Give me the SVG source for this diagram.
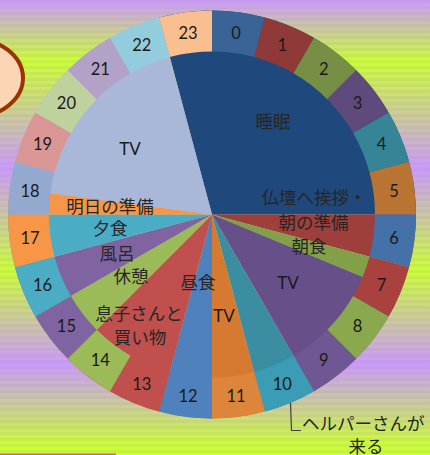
<svg xmlns="http://www.w3.org/2000/svg" width="430" height="455" viewBox="0 0 430 455">
<defs>
<linearGradient id="bg" x1="0" y1="0" x2="0" y2="455" gradientUnits="userSpaceOnUse">
<stop offset="0" stop-color="#cc99ff"/>
<stop offset="0.135" stop-color="#ccff33"/>
<stop offset="0.37" stop-color="#cc99ff"/>
<stop offset="0.595" stop-color="#ccff33"/>
<stop offset="0.80" stop-color="#cc99ff"/>
<stop offset="0.98" stop-color="#ccff33"/>
</linearGradient>
<pattern id="stripes" width="8" height="6" patternUnits="userSpaceOnUse">
<rect x="0" y="0" width="8" height="3" fill="#999999" fill-opacity="0.12"/>
</pattern>
<style>
.num{font-family:Lato,"Liberation Sans",sans-serif;font-size:16.5px;fill:#1a1a1a;text-anchor:middle}
.jp{font-family:"Noto Sans CJK JP","Noto Sans",sans-serif;font-size:17.5px;fill:#262626;text-anchor:middle}
.tv{font-family:Lato,"Liberation Sans",sans-serif;font-size:17px;fill:#1a1a1a;text-anchor:middle}
.lead{fill:none;stroke:#404040;stroke-width:1.2}
</style>
</defs>
<rect x="0" y="0" width="430" height="455" fill="url(#bg)"/>
<rect x="0" y="0" width="430" height="455" fill="url(#stripes)"/>
<ellipse cx="-30" cy="78" rx="53" ry="40" fill="#fcd5b5" stroke="#993300" stroke-width="4"/>
<rect x="0" y="453.5" width="116" height="1.5" fill="#d0704a"/>

<g id="pie">
<path d="M212,214.5 L159.2,17.45 A204,204 0 0 1 416,214.5 Z" fill="#1f497d"/>
<path d="M212,214.5 L416,214.5 A204,204 0 0 1 409.05,267.3 Z" fill="#9e3f3c"/>
<path d="M212,214.5 L409.05,267.3 A204,204 0 0 1 400.47,292.57 Z" fill="#82a048"/>
<path d="M212,214.5 L400.47,292.57 A204,204 0 0 1 314,391.17 Z" fill="#67508a"/>
<path d="M212,214.5 L314,391.17 A204,204 0 0 1 264.8,411.55 Z" fill="#3b8ea2"/>
<path d="M212,214.5 L264.8,411.55 A204,204 0 0 1 212,418.5 Z" fill="#d67a31"/>
<path d="M212,214.5 L212,418.5 A204,204 0 0 1 159.2,411.55 Z" fill="#4f81bd"/>
<path d="M212,214.5 L159.2,411.55 A204,204 0 0 1 67.75,358.75 Z" fill="#c0504d"/>
<path d="M212,214.5 L67.75,358.75 A204,204 0 0 1 35.33,316.5 Z" fill="#9bbb59"/>
<path d="M212,214.5 L35.33,316.5 A204,204 0 0 1 14.95,267.3 Z" fill="#8064a2"/>
<path d="M212,214.5 L14.95,267.3 A204,204 0 0 1 8,214.5 Z" fill="#4bacc6"/>
<path d="M212,214.5 L8,214.5 A204,204 0 0 1 9.75,187.87 Z" fill="#f79646"/>
<path d="M212,214.5 L9.75,187.87 A204,204 0 0 1 159.2,17.45 Z" fill="#a9b8d9"/>
</g>

<g id="ring">
<path d="M212,10.5 A204,204 0 0 1 264.8,17.45 L254.19,57.05 A163,163 0 0 0 212,51.5 Z" fill="#3b6496"/>
<path d="M264.8,17.45 A204,204 0 0 1 314,37.83 L293.5,73.34 A163,163 0 0 0 254.19,57.05 Z" fill="#8f3a38"/>
<path d="M314,37.83 A204,204 0 0 1 356.25,70.25 L327.26,99.24 A163,163 0 0 0 293.5,73.34 Z" fill="#778e45"/>
<path d="M356.25,70.25 A204,204 0 0 1 388.67,112.5 L353.16,133 A163,163 0 0 0 327.26,99.24 Z" fill="#5f4a7c"/>
<path d="M388.67,112.5 A204,204 0 0 1 409.05,161.7 L369.45,172.31 A163,163 0 0 0 353.16,133 Z" fill="#368597"/>
<path d="M409.05,161.7 A204,204 0 0 1 416,214.5 L375,214.5 A163,163 0 0 0 369.45,172.31 Z" fill="#b97434"/>
<path d="M416,214.5 A204,204 0 0 1 409.05,267.3 L369.45,256.69 A163,163 0 0 0 375,214.5 Z" fill="#4472a8"/>
<path d="M409.05,267.3 A204,204 0 0 1 388.67,316.5 L353.16,296 A163,163 0 0 0 369.45,256.69 Z" fill="#a9423f"/>
<path d="M388.67,316.5 A204,204 0 0 1 356.25,358.75 L327.26,329.76 A163,163 0 0 0 353.16,296 Z" fill="#8aa84d"/>
<path d="M356.25,358.75 A204,204 0 0 1 314,391.17 L293.5,355.66 A163,163 0 0 0 327.26,329.76 Z" fill="#6e5792"/>
<path d="M314,391.17 A204,204 0 0 1 264.8,411.55 L254.19,371.95 A163,163 0 0 0 293.5,355.66 Z" fill="#3a9cb5"/>
<path d="M264.8,411.55 A204,204 0 0 1 212,418.5 L212,377.5 A163,163 0 0 0 254.19,371.95 Z" fill="#dd853a"/>
<path d="M212,418.5 A204,204 0 0 1 159.2,411.55 L169.81,371.95 A163,163 0 0 0 212,377.5 Z" fill="#4f81bd"/>
<path d="M159.2,411.55 A204,204 0 0 1 110,391.17 L130.5,355.66 A163,163 0 0 0 169.81,371.95 Z" fill="#c0504d"/>
<path d="M110,391.17 A204,204 0 0 1 67.75,358.75 L96.74,329.76 A163,163 0 0 0 130.5,355.66 Z" fill="#9bbb59"/>
<path d="M67.75,358.75 A204,204 0 0 1 35.33,316.5 L70.84,296 A163,163 0 0 0 96.74,329.76 Z" fill="#8064a2"/>
<path d="M35.33,316.5 A204,204 0 0 1 14.95,267.3 L54.55,256.69 A163,163 0 0 0 70.84,296 Z" fill="#4bacc6"/>
<path d="M14.95,267.3 A204,204 0 0 1 8,214.5 L49,214.5 A163,163 0 0 0 54.55,256.69 Z" fill="#f79646"/>
<path d="M8,214.5 A204,204 0 0 1 14.95,161.7 L54.55,172.31 A163,163 0 0 0 49,214.5 Z" fill="#93a9d0"/>
<path d="M14.95,161.7 A204,204 0 0 1 35.33,112.5 L70.84,133 A163,163 0 0 0 54.55,172.31 Z" fill="#d99694"/>
<path d="M35.33,112.5 A204,204 0 0 1 67.75,70.25 L96.74,99.24 A163,163 0 0 0 70.84,133 Z" fill="#bfd19c"/>
<path d="M67.75,70.25 A204,204 0 0 1 110,37.83 L130.5,73.34 A163,163 0 0 0 96.74,99.24 Z" fill="#b3a2c7"/>
<path d="M110,37.83 A204,204 0 0 1 159.2,17.45 L169.81,57.05 A163,163 0 0 0 130.5,73.34 Z" fill="#93cddd"/>
<path d="M159.2,17.45 A204,204 0 0 1 212,10.5 L212,51.5 A163,163 0 0 0 169.81,57.05 Z" fill="#fabf8f"/>
</g>

<g id="hour-labels">
<text class="num" x="235.95" y="38.5">0</text>
<text class="num" x="282.22" y="50.9">1</text>
<text class="num" x="323.71" y="74.9">2</text>
<text class="num" x="357.58" y="108.7">3</text>
<text class="num" x="381.53" y="150.2">4</text>
<text class="num" x="393.93" y="196.5">5</text>
<text class="num" x="393.93" y="244.4">6</text>
<text class="num" x="381.53" y="290.7">7</text>
<text class="num" x="357.58" y="332.2">8</text>
<text class="num" x="323.71" y="366">9</text>
<text class="num" x="282.22" y="390">10</text>
<text class="num" x="235.95" y="402.4">11</text>
<text class="num" x="188.05" y="402.4">12</text>
<text class="num" x="141.78" y="390">13</text>
<text class="num" x="100.29" y="366">14</text>
<text class="num" x="66.42" y="332.2">15</text>
<text class="num" x="42.47" y="290.7">16</text>
<text class="num" x="30.07" y="244.4">17</text>
<text class="num" x="30.07" y="196.5">18</text>
<text class="num" x="42.47" y="150.2">19</text>
<text class="num" x="66.42" y="108.7">20</text>
<text class="num" x="100.29" y="74.9">21</text>
<text class="num" x="141.78" y="50.9">22</text>
<text class="num" x="188.05" y="38.5">23</text>
</g>

<g id="activity-labels">
<text class="jp" x="273" y="127.5">睡眠</text>
<text class="jp" x="314" y="203.5">仏壇へ挨拶・</text>
<text class="jp" x="313.5" y="228.5">朝の準備</text>
<text class="jp" x="309" y="252.5">朝食</text>
<text class="tv" x="288" y="289">TV</text>
<text class="tv" x="224" y="322">TV</text>
<text class="jp" x="198" y="288.5">昼食</text>
<text class="jp" x="110" y="212.5">明日の準備</text>
<text class="jp" x="110" y="234.5">夕食</text>
<text class="jp" x="117" y="259.5">風呂</text>
<text class="jp" x="131" y="282.5">休憩</text>
<text class="jp" x="139" y="320">息子さんと</text>
<text class="jp" x="140" y="343.5">買い物</text>
<text class="tv" x="130" y="155">TV</text>
<text class="jp" x="302" y="429.5" style="text-anchor:start">ヘルパーさんが</text>
<text class="jp" x="366" y="452.5">来る</text>
</g>

<g id="connectors">
<path class="lead" d="M290.5,403 L291.5,430.5 L301,430.5"/>
</g>
</svg>
